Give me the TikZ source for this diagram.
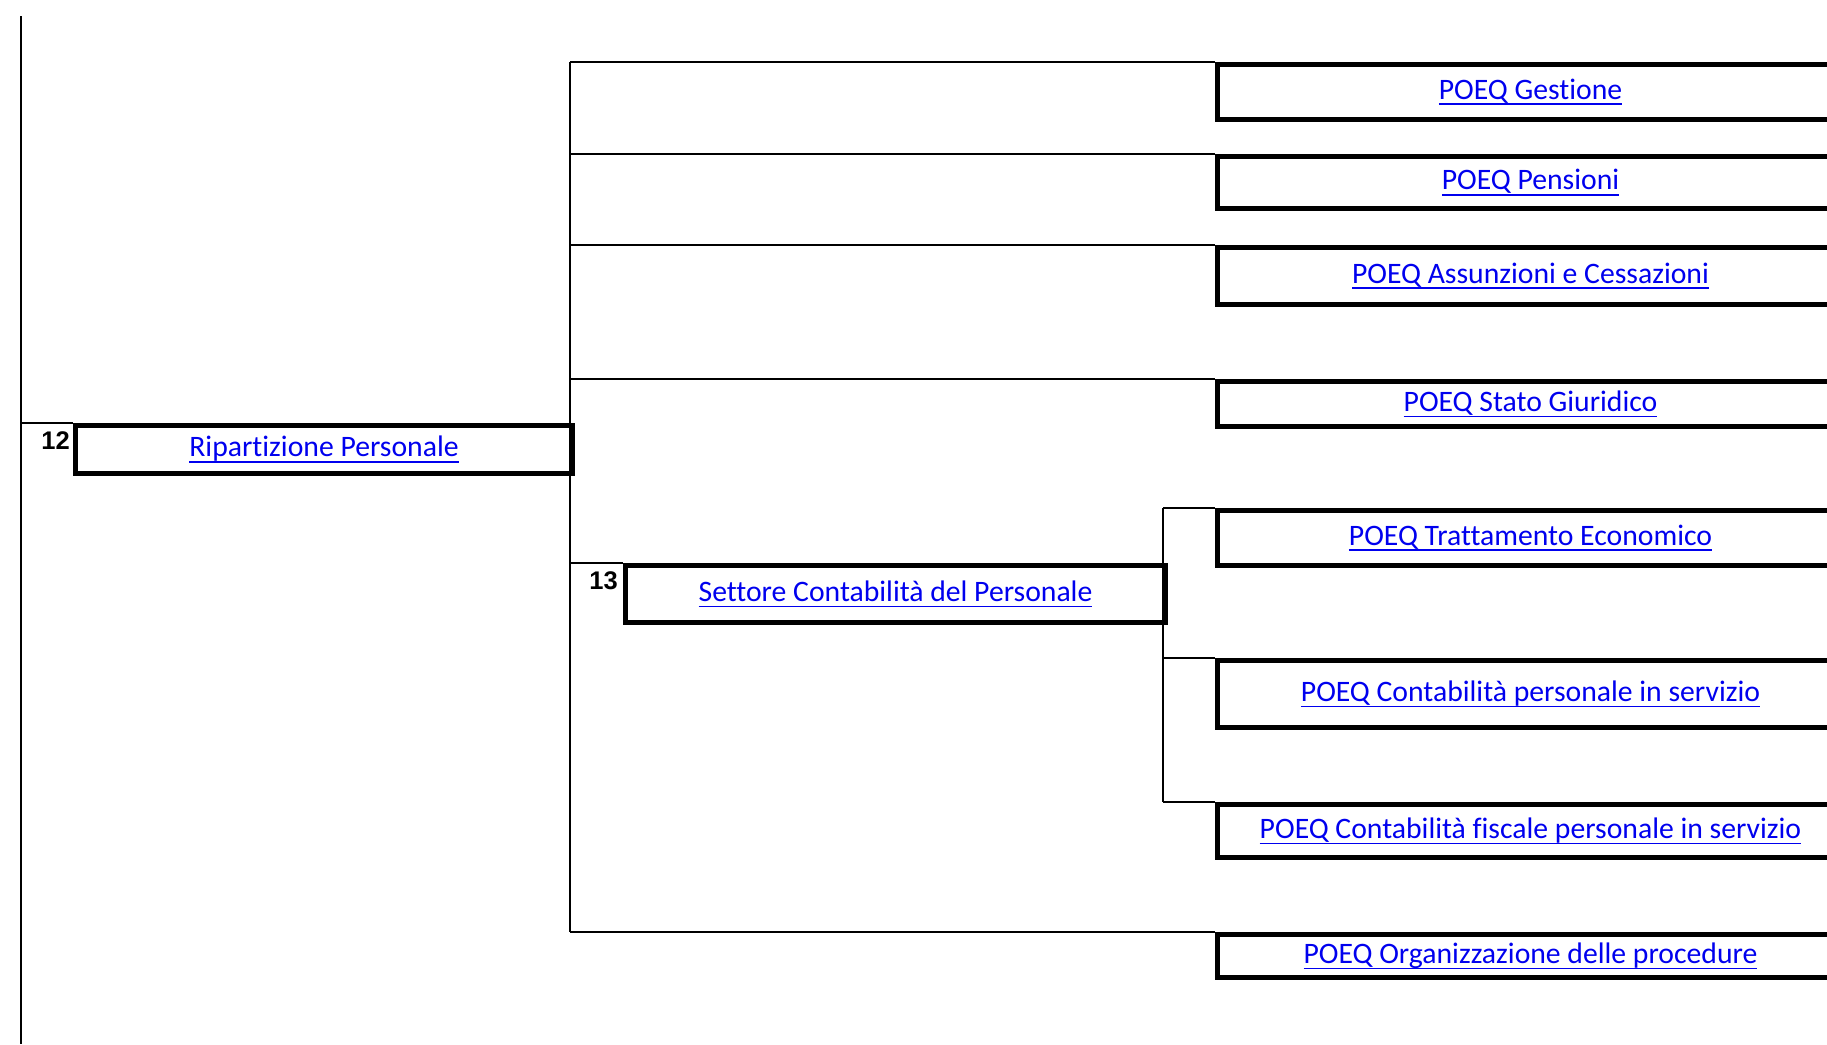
\documentclass[tikz,border=0pt]{standalone}
\usepackage{fontspec}
\setmainfont{Carlito}[Ligatures={NoCommon,NoContextual},RawFeature=-calt]
\newfontfamily\numfont{Liberation Sans}
\definecolor{linkblue}{RGB}{0,0,238}
\newcommand{\lnk}[1]{{\color{linkblue}\setbox0\hbox{#1}\rlap{\rule[-0.2em]{\wd0}{1.7pt}}\box0}}
\tikzset{
  thin/.style={line width=2.5pt},
  ubox/.style={draw, line width=5pt, inner sep=0pt, anchor=north west, font=\fontsize{29.7}{33}\selectfont},
  num/.style={font=\numfont\bfseries\fontsize{25.5}{28}\selectfont, inner sep=0pt, anchor=east}
}
\begin{document}
\begin{tikzpicture}[x=1pt,y=-1pt]
\useasboundingbox (0,0) rectangle (1827,1044);
% left spine
\coordinate (top) at (21,16);
\coordinate (bot) at (21,1044);
\draw[thin] (top) -- (bot);
% level 1 box
\node[ubox, minimum width=497pt, minimum height=48pt] (rip) at (73,423) {\lnk{Ripartizione Personale}};
\node[num] (n12) at (70,441) {12};
\coordinate (ripj) at (21,423);
\draw[thin] (ripj) -- (rip.north west);
% right boxes
\node[ubox, minimum width=626pt, minimum height=55pt] (g) at (1215,62) {\lnk{POEQ Gestione}};
\node[ubox, minimum width=626pt, minimum height=52pt] (p) at (1215,154) {\lnk{POEQ Pensioni}};
\node[ubox, minimum width=626pt, minimum height=57pt] (a) at (1215,245) {\lnk{POEQ Assunzioni e Cessazioni}};
\node[ubox, minimum width=626pt, minimum height=45pt] (s) at (1215,379) {\lnk{POEQ Stato Giuridico}};
\node[ubox, minimum width=626pt, minimum height=55pt] (t) at (1215,508) {\lnk{POEQ Trattamento Economico}};
\node[ubox, minimum width=626pt, minimum height=67pt] (c) at (1215,658) {\lnk{POEQ Contabilità personale in servizio}};
\node[ubox, minimum width=626pt, minimum height=53pt] (f) at (1215,802) {\lnk{POEQ Contabilità fiscale personale in servizio}};
\node[ubox, minimum width=626pt, minimum height=43pt] (o) at (1215,932) {\lnk{POEQ Organizzazione delle procedure}};
% level 2 box
\node[ubox, minimum width=540pt, minimum height=57pt] (set) at (623,563) {\lnk{Settore Contabilità del Personale}};
\node[num] (n13) at (618,581) {13};
% connectors from Ripartizione
\coordinate (v1t) at (570,62);
\coordinate (v1b) at (570,932);
\draw[thin] (v1t) -- (v1b);
\draw[thin] (v1t) -- (g.north west);
\draw[thin] (570,154) -- (p.north west);
\draw[thin] (570,245) -- (a.north west);
\draw[thin] (570,379) -- (s.north west);
\draw[thin] (570,563) -- (set.north west);
\draw[thin] (v1b) -- (o.north west);
% connectors from Settore
\coordinate (v2t) at (1163,508);
\coordinate (v2b) at (1163,802);
\draw[thin] (v2t) -- (v2b);
\draw[thin] (v2t) -- (t.north west);
\draw[thin] (1163,658) -- (c.north west);
\draw[thin] (v2b) -- (f.north west);
\end{tikzpicture}
\end{document}
